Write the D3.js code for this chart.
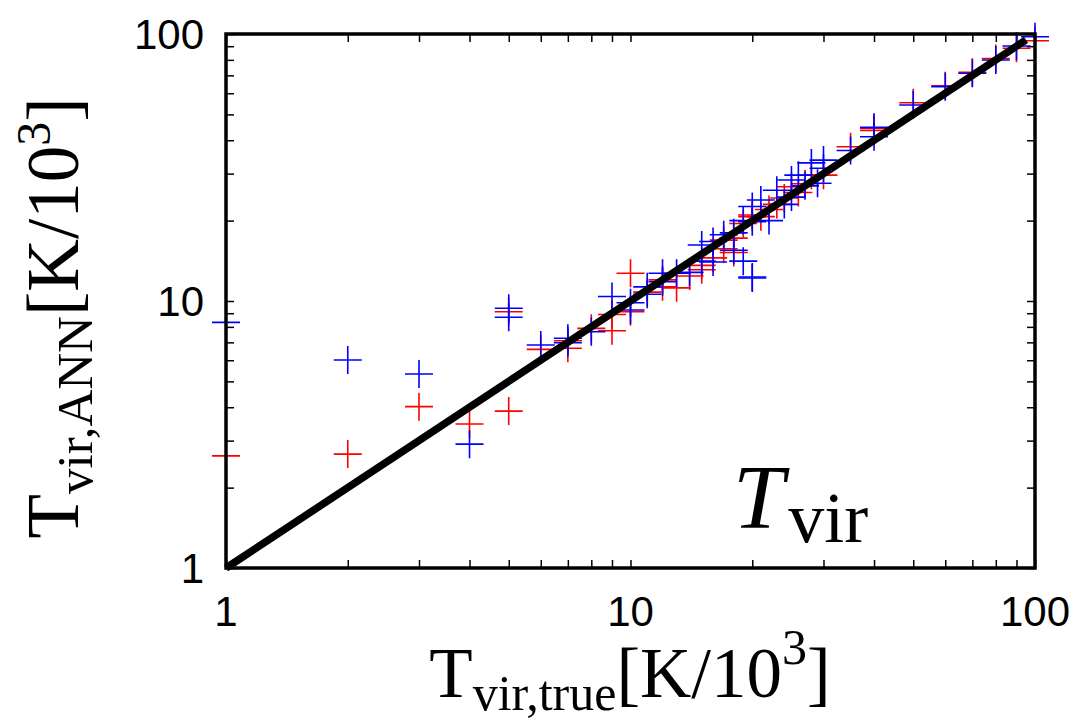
<!DOCTYPE html>
<html>
<head>
<meta charset="utf-8">
<script src="https://cdn.jsdelivr.net/npm/d3@7"></script>
<style>
  body { margin: 0; background: #fff; }
  svg { display: block; }
</style>
</head>
<body>
<div id="chart"></div>
<script>
var width = 1082;
var height = 722;

// red set: true value / ANN value
var redTrue = [1, 2, 3, 4, 5, 5, 6, 7, 7, 8, 9, 9, 10, 10, 11, 12, 12, 13, 14, 15, 15, 16, 17, 17, 18, 18, 19, 20, 20, 21, 22, 23, 24, 25, 26, 27, 28, 30, 35, 40, 40, 50, 60, 70, 80, 90, 100];
var redAnn  = [2.63, 2.67, 4.02, 3.46, 9.12, 3.87, 6.59, 6.65, 7.1, 7.9, 7.74, 8.9, 12.7, 9.12, 10.8, 12.0, 11.3, 11.2, 12.4, 13.1, 13.6, 14.5, 15.7, 16.9, 17.2, 15.2, 19.5, 20.7, 21.0, 20.7, 22.0, 23.0, 24.3, 26.8, 25.5, 27.5, 29.6, 29.6, 37.8, 44.3, 43.5, 55.3, 64, 71.9, 81, 88.4, 94.4];

// blue set
var blueTrue = [1, 2, 3, 4, 5, 5, 6, 7, 7, 8, 9, 10, 10, 11, 11, 12, 12, 13, 14, 15, 15, 16, 16, 17, 18, 18, 19, 19, 20, 20, 20, 20, 21, 22, 23, 24, 25, 25, 26, 27, 28, 29, 30, 30, 35, 40, 40, 50, 60, 70, 80, 90, 100];
var blueAnn  = [8.32, 6.01, 5.33, 2.91, 9.39, 8.69, 6.84, 7.25, 6.98, 7.67, 10.4, 9.85, 9.25, 11.3, 10.6, 12.7, 11.8, 12.7, 12.8, 16.2, 14.1, 16.7, 14.0, 17.7, 18.0, 15.5, 14.1, 20.0, 12.2, 12.3, 19.8, 22.6, 23.9, 20.0, 26.0, 23.0, 28.4, 24.5, 29.6, 27.0, 32.9, 27.6, 33.7, 31.4, 36.6, 44.7, 41.2, 54.2, 63.5, 71.3, 79.9, 90.2, 97.7];

var lineTrue = [1, 95];
var majorTicks = [1, 10, 100];
var minorTicks = [2, 3, 4, 5, 6, 7, 8, 9, 20, 30, 40, 50, 60, 70, 80, 90];

var plotL = 226, plotR = 1035, plotT = 34, plotB = 568;

var svg = d3.select("#chart").append("svg")
  .attr("width", width)
  .attr("height", height);

var x = d3.scaleLog().domain([1, 100]).range([plotL, plotR]);
var y = d3.scaleLog().domain([1, 100]).range([plotB, plotT]);

var allTicks = majorTicks.concat(minorTicks);

// inward ticks on all four sides
function tickAxis(axis, tx, ty) {
  var g = svg.append("g")
    .attr("transform", "translate(" + tx + "," + ty + ")")
    .call(axis.tickValues(allTicks).tickSize(-8).tickFormat(""));
  g.select(".domain").remove();
  g.selectAll("line").attr("stroke", "#000").attr("stroke-width", 1.5);
}
tickAxis(d3.axisBottom(x), 0, plotB);
tickAxis(d3.axisTop(x), 0, plotT);
tickAxis(d3.axisLeft(y), plotL, 0);
tickAxis(d3.axisRight(y), plotR, 0);

// tick labels
svg.append("g").selectAll("text")
  .data(majorTicks)
  .enter().append("text")
  .attr("x", function(d) { return x(d); })
  .attr("y", 626)
  .attr("text-anchor", "middle")
  .attr("font-family", "Liberation Sans, Arial, sans-serif")
  .attr("font-size", 42)
  .text(function(d) { return d; });

svg.append("g").selectAll("text")
  .data(majorTicks)
  .enter().append("text")
  .attr("x", 204)
  .attr("y", function(d) { return y(d) + 15; })
  .attr("text-anchor", "end")
  .attr("font-family", "Liberation Sans, Arial, sans-serif")
  .attr("font-size", 42)
  .text(function(d) { return d; });

// crosses
function crosses(xs, ys, color) {
  var pts = xs.map(function(d, i) { return [d, ys[i]]; });
  svg.append("g").selectAll("path")
    .data(pts)
    .enter().append("path")
    .attr("d", function(d) {
      var cx = x(d[0]), cy = y(d[1]), s = 14;
      return "M" + (cx - s) + "," + cy + "H" + (cx + s) + "M" + cx + "," + (cy - s) + "V" + (cy + s);
    })
    .attr("stroke", color)
    .attr("stroke-width", 1.6)
    .attr("fill", "none");
}
crosses(redTrue, redAnn, "#ff0000");
crosses(blueTrue, blueAnn, "#0000ff");

// y = x line
var line = d3.line()
  .x(function(d) { return x(d); })
  .y(function(d) { return y(d); });

svg.append("path")
  .attr("d", line(lineTrue))
  .attr("stroke", "#000")
  .attr("stroke-width", 7.5)
  .attr("fill", "none");

// frame
svg.append("rect")
  .attr("x", plotL)
  .attr("y", plotT)
  .attr("width", plotR - plotL)
  .attr("height", plotB - plotT)
  .attr("fill", "none")
  .attr("stroke", "#000")
  .attr("stroke-width", 3.5);

// in-plot label
var lab = svg.append("text")
  .attr("x", 733)
  .attr("y", 528)
  .attr("font-family", "Liberation Serif, Times New Roman, serif")
  .attr("font-size", 92);
lab.append("tspan").attr("font-style", "italic").text("T");
lab.append("tspan").attr("font-size", 72).attr("dx", 4).attr("dy", 14).text("vir");

// axis titles
var xt = svg.append("text")
  .attr("x", 630)
  .attr("y", 697)
  .attr("text-anchor", "middle")
  .attr("font-family", "Liberation Serif, Times New Roman, serif")
  .attr("font-size", 71);
xt.append("tspan").text("T");
xt.append("tspan").attr("font-size", 50).attr("dy", 13).text("vir,true");
xt.append("tspan").attr("dy", -13).text("[K/10");
xt.append("tspan").attr("font-size", 50).attr("dy", -33).text("3");
xt.append("tspan").attr("dy", 33).text("]");

var yt = svg.append("text")
  .attr("transform", "translate(78,318) rotate(-90)")
  .attr("text-anchor", "middle")
  .attr("font-family", "Liberation Serif, Times New Roman, serif")
  .attr("font-size", 73);
yt.append("tspan").text("T");
yt.append("tspan").attr("font-size", 51).attr("dy", 14).text("vir,ANN");
yt.append("tspan").attr("dy", -14).text("[K/10");
yt.append("tspan").attr("font-size", 48).attr("dy", -28).text("3");
yt.append("tspan").attr("dy", 28).text("]");
</script>
</body>
</html>
